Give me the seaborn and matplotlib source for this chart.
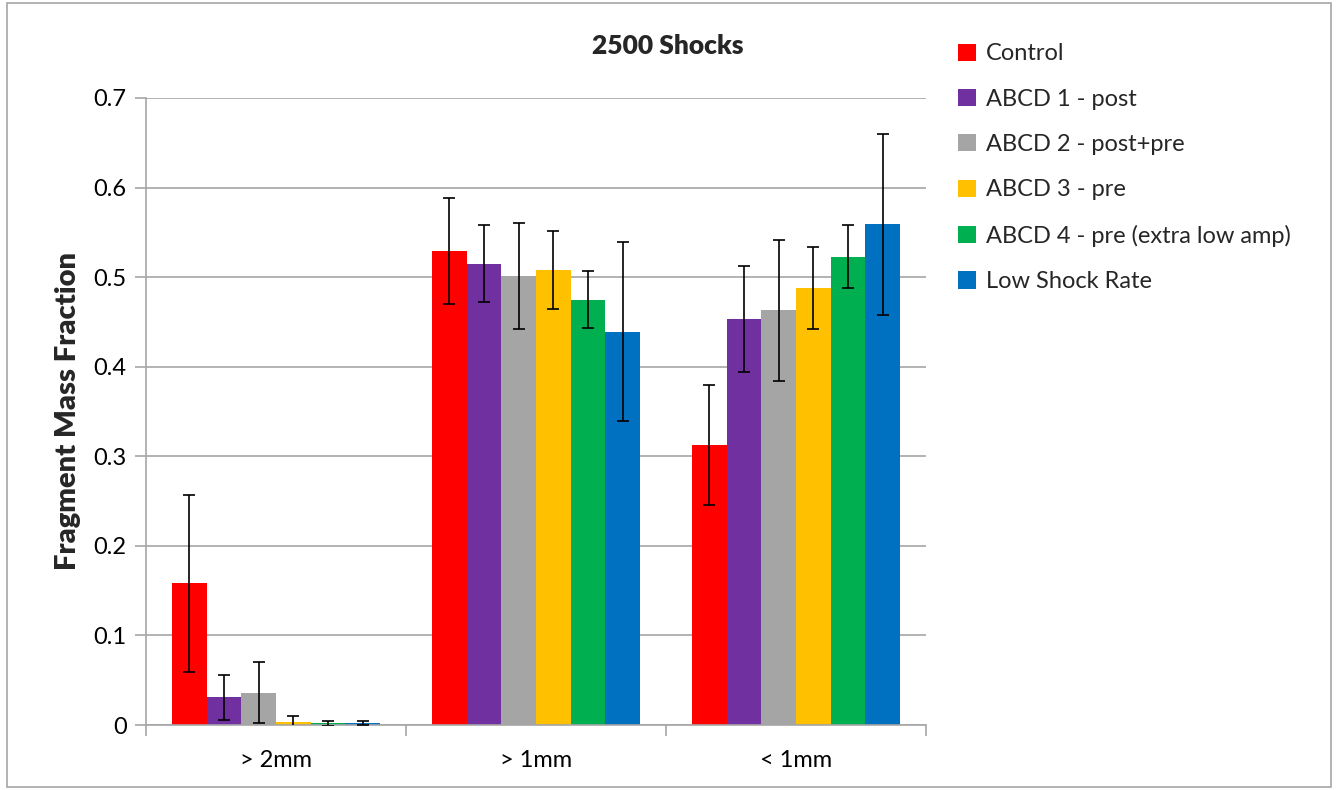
import numpy as np
import pandas as pd
import matplotlib
matplotlib.use("Agg")
import matplotlib.pyplot as plt
from matplotlib.patches import Rectangle, Patch
import seaborn as sns

# Size classes on the x axis
categories = ["> 2mm", "> 1mm", "< 1mm"]

# Treatment series
series = ["Control", "ABCD 1 - post", "ABCD 2 - post+pre", "ABCD 3 - pre",
          "ABCD 4 - pre (extra low amp)", "Low Shock Rate"]
colors = ["#FF0000", "#7030A0", "#A5A5A5", "#FFC000", "#00B050", "#0070C0"]

# Mean fragment mass fraction per series (one value per size class)
control = [0.158, 0.529, 0.313]
abcd1 = [0.031, 0.515, 0.453]
abcd2 = [0.036, 0.501, 0.463]
abcd3 = [0.003, 0.508, 0.488]
abcd4 = [0.002, 0.475, 0.523]
low_rate = [0.002, 0.439, 0.559]

# Error-bar half widths
control_err = [0.099, 0.059, 0.067]
abcd1_err = [0.025, 0.043, 0.059]
abcd2_err = [0.034, 0.059, 0.079]
abcd3_err = [0.007, 0.044, 0.046]
abcd4_err = [0.003, 0.032, 0.035]
low_rate_err = [0.002, 0.100, 0.101]

values = [control, abcd1, abcd2, abcd3, abcd4, low_rate]
errors = [control_err, abcd1_err, abcd2_err, abcd3_err, abcd4_err, low_rate_err]

rows = []
for s, vals, errs in zip(series, values, errors):
    for c, v, e in zip(categories, vals, errs):
        rows.append({"size": c, "series": s, "value": v, "err": e})
df = pd.DataFrame(rows)

sns.set_theme(style="white")
plt.rcParams["font.family"] = ["Lato", "DejaVu Sans"]

fig = plt.figure(figsize=(13.38, 7.9), dpi=100)
ax = fig.add_axes([146 / 1338, 1 - 725 / 790, (926 - 146) / 1338, (725 - 98) / 790])

sns.barplot(data=df, x="size", y="value", hue="series", order=categories,
            hue_order=series, palette=colors, errorbar=None, width=0.8,
            linewidth=0, saturation=1, ax=ax, legend=False)

# Error bars centred on each bar
for h_i, s in enumerate(series):
    sub = df[df["series"] == s].set_index("size").loc[categories]
    for c_i in range(len(categories)):
        p = ax.patches[h_i * len(categories) + c_i]
        xc = p.get_x() + p.get_width() / 2
        ax.errorbar(xc, sub["value"].iloc[c_i], yerr=sub["err"].iloc[c_i],
                    fmt="none", ecolor="black", elinewidth=1.2,
                    capsize=4.5, capthick=1.2, zorder=5)

ax.set_ylim(0, 0.7)
ax.set_xlim(-0.5, 2.5)
ax.set_yticks(np.arange(0, 0.71, 0.1))
ax.set_yticklabels(["0", "0.1", "0.2", "0.3", "0.4", "0.5", "0.6", "0.7"])
ax.yaxis.grid(True, color="#A6A6A6", linewidth=1.2)
ax.set_axisbelow(True)
for side in ["top", "right"]:
    ax.spines[side].set_visible(False)
for side in ["left", "bottom"]:
    ax.spines[side].set_color("#A6A6A6")
    ax.spines[side].set_linewidth(1.2)

ax.tick_params(axis="y", which="major", left=True, length=8, width=1.2,
               color="#A6A6A6", labelsize=17, pad=6, labelcolor="black")
ax.tick_params(axis="x", which="major", bottom=False, labelsize=17,
               pad=12, labelcolor="black")
# Category boundary ticks on the x axis
ax.set_xticks([-0.5, 0.5, 1.5, 2.5], minor=True)
ax.tick_params(axis="x", which="minor", bottom=True, length=8, width=1.2,
               color="#A6A6A6")

ax.set_xlabel("")
ax.set_ylabel("Fragment Mass Fraction", fontsize=21, fontweight="heavy",
              labelpad=9)

fig.text(668 / 1338, 1 - 46 / 790, "2500 Shocks", ha="center", va="center",
         fontsize=19, fontweight="heavy")

handles = [Patch(facecolor=col, edgecolor="none") for col in colors]
fig.legend(handles, series, loc="upper left",
           bbox_to_anchor=(949 / 1338, 1 - 34 / 790), frameon=False,
           fontsize=17, handlelength=0.75, handleheight=0.75,
           handletextpad=0.4, labelspacing=1.03, borderaxespad=0)

# Chart border
fig.patches.append(Rectangle((7 / 1338, 3 / 790), 1 - 14 / 1338, 1 - 6 / 790,
                             transform=fig.transFigure, fill=False,
                             edgecolor="#A6A6A6", linewidth=1.2))

fig.savefig("out.png", dpi=100, facecolor="white")
